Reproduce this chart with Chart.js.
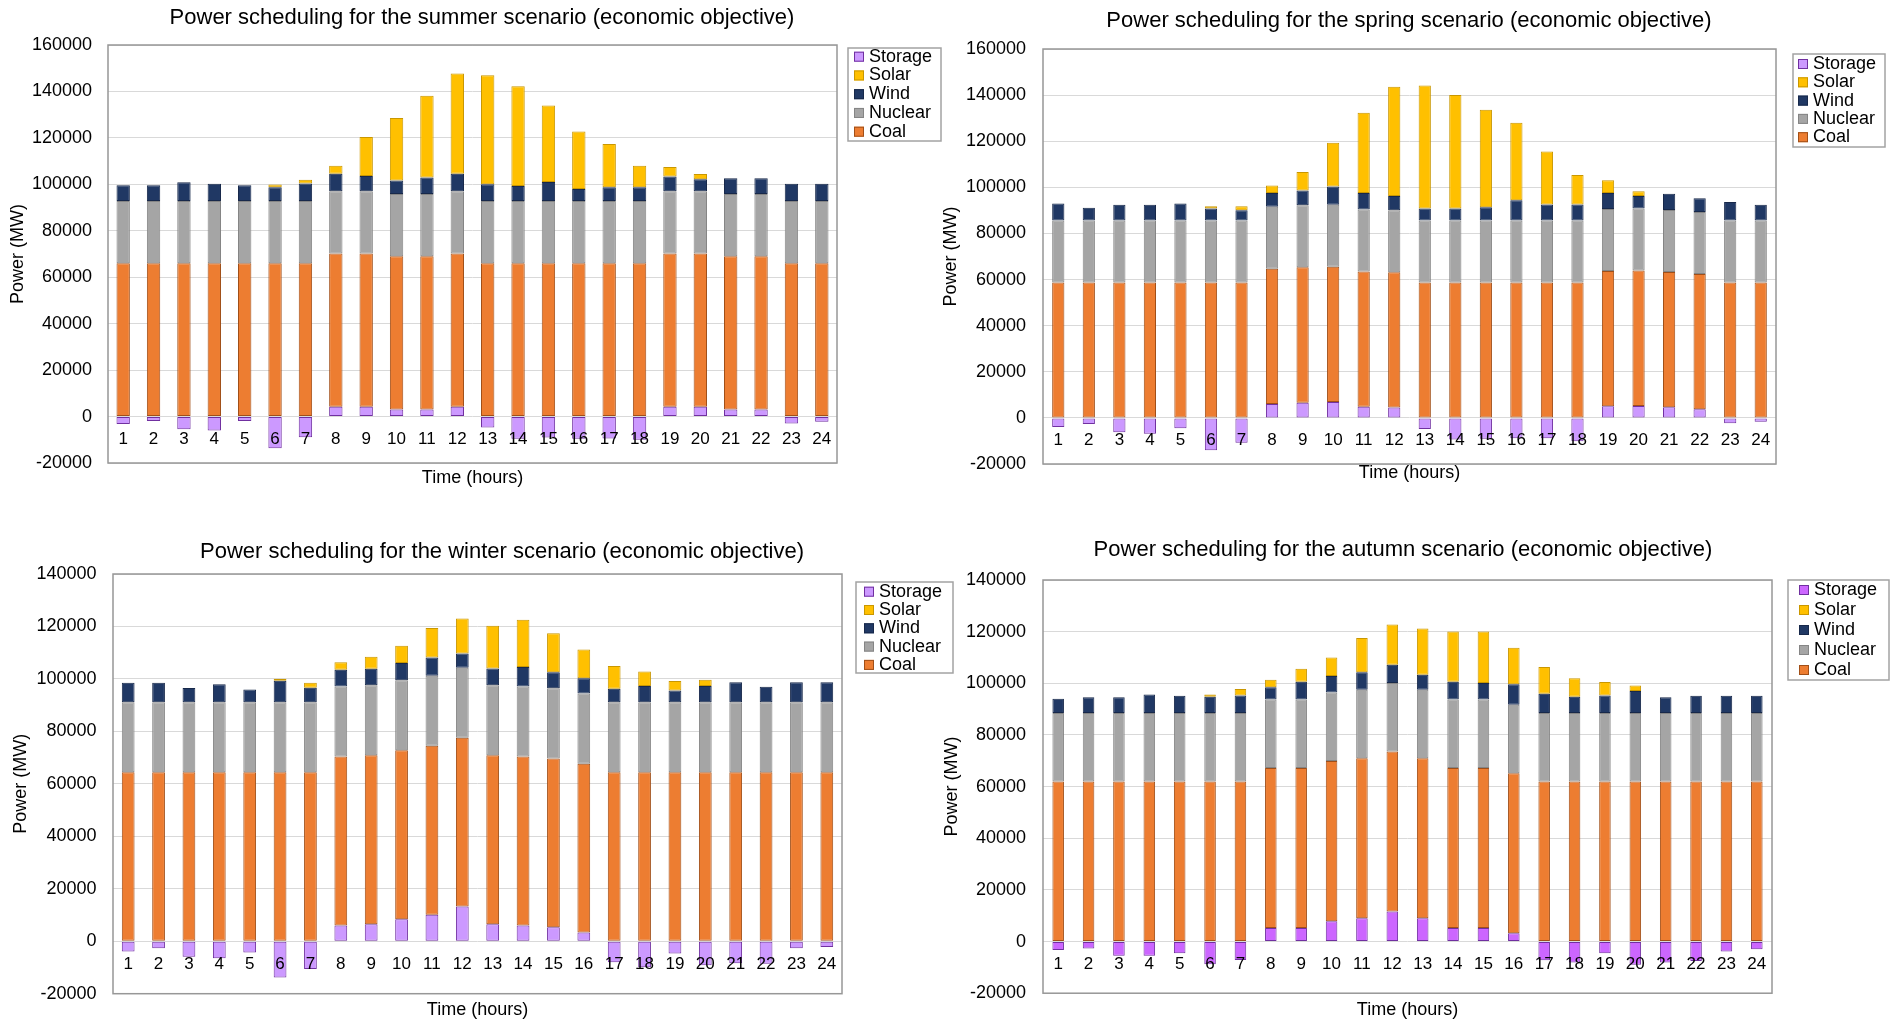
<!DOCTYPE html>
<html>
<head>
<meta charset="utf-8">
<title>Power scheduling (economic objective)</title>
<script src="https://cdn.jsdelivr.net/npm/chart.js@4.4.1/dist/chart.umd.min.js"></script>
<style>
  html, body { margin: 0; padding: 0; background: #fff; }
  body { position: relative; width: 1900px; height: 1021px; overflow: hidden; }
  canvas { position: absolute; }
</style>
</head>
<body>
<canvas id="summer" width="950" height="510" style="left:0;top:0"></canvas>
<canvas id="spring" width="970" height="510" style="left:930px;top:0"></canvas>
<canvas id="winter" width="960" height="511" style="left:0;top:510px"></canvas>
<canvas id="autumn" width="970" height="511" style="left:930px;top:510px"></canvas>
<script>
const hours = ['1', '2', '3', '4', '5', '6', '7', '8', '9', '10', '11', '12',
               '13', '14', '15', '16', '17', '18', '19', '20', '21', '22', '23', '24'];

// MW per hour, summer
const summerStorage = [-3200, -1900, -5500, -6000, -1900, -13600, -8900, 4200, 4200, 3000, 3000, 4200,
                       -4700, -9600, -9000, -9600, -9400, -10000, 4200, 4200, 3000, 3000, -3000, -2200];
const summerCoal = [66000, 66000, 66000, 66000, 66000, 66000, 66000, 66000, 66000, 66000, 66000, 66000,
                    66000, 66000, 66000, 66000, 66000, 66000, 66000, 66000, 66000, 66000, 66000, 66000];
const summerNuclear = [26800, 26800, 26800, 26800, 26800, 26800, 26800, 26800, 26800, 26800, 26800, 26800,
                       26800, 26800, 26800, 26800, 26800, 26800, 26800, 26800, 26800, 26800, 26800, 26800];
const summerWind = [6800, 6800, 8100, 7500, 6800, 5900, 7600, 7600, 6600, 5800, 7100, 7600,
                    7200, 6500, 8200, 5200, 5900, 5900, 6400, 5200, 6800, 6800, 7500, 7500];
const summerSolar = [0, 0, 0, 0, 0, 1200, 1600, 3400, 16800, 27000, 35200, 43100,
                     47000, 42900, 32900, 24700, 18700, 9300, 4100, 2300, 0, 0, 0, 0];

// spring
const springStorage = [-3900, -2600, -6200, -6900, -4500, -14000, -10800, 6000, 6600, 6900, 4800, 4500,
                       -4800, -9400, -9100, -8800, -8800, -10100, 5000, 5200, 4600, 3700, -2300, -1700];
const springCoal = [58700, 58700, 58700, 58700, 58700, 58700, 58700, 58700, 58700, 58700, 58700, 58700,
                    58700, 58700, 58700, 58700, 58700, 58700, 58700, 58700, 58700, 58700, 58700, 58700];
const springNuclear = [26900, 26900, 26900, 26900, 26900, 26900, 26900, 26900, 26900, 26900, 26900, 26900,
                       26900, 26900, 26900, 26900, 26900, 26900, 26900, 26900, 26900, 26900, 26900, 26900];
const springWind = [7400, 5500, 6800, 6800, 7400, 5200, 4500, 5900, 6400, 7900, 7100, 6100,
                    5200, 5200, 5800, 8800, 7000, 7000, 6900, 5400, 7000, 6000, 8000, 6800];
const springSolar = [0, 0, 0, 0, 0, 1000, 1700, 3300, 8000, 18900, 34800, 47400,
                     53400, 49200, 42200, 33600, 22900, 12800, 5600, 2100, 0, 0, 0, 0];

// winter
const winterStorage = [-3900, -2700, -5900, -6500, -4300, -13800, -10600, 6000, 6500, 8400, 10100, 13200,
                       6500, 6000, 5300, 3300, -8000, -9900, -4700, -9200, -8400, -8600, -2700, -2200];
const winterCoal = [64400, 64400, 64400, 64400, 64400, 64400, 64400, 64400, 64400, 64400, 64400, 64400,
                    64400, 64400, 64400, 64400, 64400, 64400, 64400, 64400, 64400, 64400, 64400, 64400];
const winterNuclear = [26700, 26700, 26700, 26700, 26700, 26700, 26700, 26700, 26700, 26700, 26700, 26700,
                       26700, 26700, 26700, 26700, 26700, 26700, 26700, 26700, 26700, 26700, 26700, 26700];
const winterWind = [7400, 7400, 5400, 6900, 4900, 8200, 5500, 6400, 6300, 6600, 7000, 5400,
                    6400, 7400, 6100, 5900, 5200, 6200, 4500, 6200, 7600, 5900, 7600, 7600];
const winterSolar = [0, 0, 0, 0, 0, 800, 1900, 2900, 4600, 6500, 11200, 13300,
                     16300, 18100, 14900, 10900, 8600, 5500, 3600, 2400, 0, 0, 0, 0];

// autumn
const autumnStorage = [-3300, -2700, -5500, -5500, -4500, -8800, -7100, 5200, 5200, 7900, 9000, 11600,
                       9000, 5200, 5200, 3200, -7200, -8100, -4500, -9000, -8100, -7500, -3900, -3000];
const autumnCoal = [62000, 62000, 62000, 62000, 62000, 62000, 62000, 62000, 62000, 62000, 62000, 62000,
                    62000, 62000, 62000, 62000, 62000, 62000, 62000, 62000, 62000, 62000, 62000, 62000];
const autumnNuclear = [26500, 26500, 26500, 26500, 26500, 26500, 26500, 26500, 26500, 26500, 26500, 26500,
                       26500, 26500, 26500, 26500, 26500, 26500, 26500, 26500, 26500, 26500, 26500, 26500];
const autumnWind = [5500, 6100, 6100, 7200, 6700, 6300, 6800, 4800, 6900, 6400, 6800, 7100,
                    5800, 6900, 6400, 7900, 7500, 6300, 6800, 8500, 6100, 6700, 6700, 6700];
const autumnSolar = [0, 0, 0, 0, 0, 900, 2500, 2900, 5000, 7200, 13200, 15600,
                     17900, 19500, 20000, 14200, 10300, 7200, 5200, 2100, 0, 0, 0, 0];

const legendOrder = ['Storage', 'Solar', 'Wind', 'Nuclear', 'Coal'];

const FONT = "'Liberation Sans', Arial, sans-serif";
Chart.defaults.font.family = FONT;
Chart.defaults.color = '#000';

// frame round the plot, the title, the x-axis title and the boxed legend
const sheetDecor = {
    id: 'sheetDecor',
    afterDraw(chart, args, opts) {
        const { ctx, chartArea: a } = chart;
        ctx.save();

        ctx.strokeStyle = '#979797';
        ctx.lineWidth = 1.5;
        ctx.strokeRect(a.left, a.top, a.right - a.left, a.bottom - a.top);

        ctx.fillStyle = '#000';
        ctx.textAlign = 'center';
        ctx.textBaseline = 'middle';
        ctx.font = `22px ${FONT}`;
        ctx.fillText(opts.text, opts.titleX, opts.titleY);
        ctx.font = `18px ${FONT}`;
        ctx.fillText('Time (hours)', (a.left + a.right) / 2, opts.xTitleY);

        const L = opts.box;
        ctx.strokeStyle = '#a3a3a3';
        ctx.lineWidth = 1.5;
        ctx.strokeRect(L.x, L.y, L.w, L.h);
        ctx.textAlign = 'left';
        legendOrder.forEach((name, i) => {
            const ds = chart.data.datasets.find(d => d.label === name);
            const cy = L.y + L.first + i * L.step;
            const sx = L.x + L.pad;
            ctx.fillStyle = ds.backgroundColor;
            ctx.fillRect(sx, cy - 5, 10, 10);
            ctx.strokeStyle = ds.borderColor;
            ctx.lineWidth = 1;
            ctx.strokeRect(sx + 0.5, cy - 4.5, 9, 9);
            ctx.fillStyle = '#000';
            ctx.fillText(name, sx + 15, cy);
        });
        ctx.restore();
    }
};

function series(label, data, fill, line, barPct) {
    return {
        label,
        data,
        backgroundColor: fill,
        borderColor: line,
        borderWidth: 1,
        borderSkipped: false,
        barPercentage: barPct,
        categoryPercentage: 1,
    };
}

function drawSeason(id, season, d, storageFill, yMax, lay) {
    return new Chart(document.getElementById(id), {
        type: 'bar',
        data: {
            labels: hours,
            datasets: [
                // storage first so that charging sits under the coal block
                series('Storage', d.storage, storageFill, '#7030A0', lay.bar),
                series('Coal', d.coal, '#ED7D31', '#A14F18', lay.bar),
                series('Nuclear', d.nuclear, '#A5A5A5', '#858585', lay.bar),
                series('Wind', d.wind, '#203864', '#17284A', lay.bar),
                series('Solar', d.solar, '#FFC000', '#C99700', lay.bar),
            ],
        },
        options: {
            responsive: false,
            animation: false,
            devicePixelRatio: 1,
            layout: { padding: lay.padding },
            plugins: {
                legend: { display: false },
                tooltip: { enabled: false },
                sheetDecor: {
                    text: `Power scheduling for the ${season} scenario (economic objective)`,
                    titleX: lay.titleX, titleY: lay.titleY,
                    xTitleY: lay.xTitleY,
                    box: lay.box,
                },
            },
            scales: {
                x: {
                    stacked: true,
                    position: { y: 0 },
                    grid: { display: false, drawTicks: false },
                    border: { display: false },
                    ticks: { z: 1, padding: lay.xPad, autoSkip: false, maxRotation: 0, font: { size: 17 } },
                },
                y: {
                    stacked: true,
                    min: -20000,
                    max: yMax,
                    grid: { color: '#d9d9d9', drawTicks: false },
                    border: { display: false },
                    ticks: { stepSize: 20000, padding: lay.yPad, font: { size: 18 }, callback: v => String(v) },
                    title: { display: true, text: 'Power (MW)', font: { size: 18 }, padding: { top: lay.yTitlePad, bottom: 0 } },
                    afterFit: s => { s.width = lay.yWidth; },
                },
            },
        },
        plugins: [sheetDecor],
    });
}

drawSeason('summer', 'summer',
    { storage: summerStorage, coal: summerCoal, nuclear: summerNuclear, wind: summerWind, solar: summerSolar },
    '#CC99FF', 160000, {
        padding: { left: 0, top: 45, right: 113, bottom: 47 },
        yWidth: 108, yPad: 16, yTitlePad: 7.1, xPad: 13, bar: 0.44,
        titleX: 482, titleY: 18, xTitleY: 478,
        box: { x: 848, y: 48, w: 93, h: 93, pad: 6, first: 8.7, step: 18.75 },
    });

drawSeason('spring', 'spring',
    { storage: springStorage, coal: springCoal, nuclear: springNuclear, wind: springWind, solar: springSolar },
    '#CC99FF', 160000, {
        padding: { left: 0, top: 49, right: 124, bottom: 46 },
        yWidth: 113, yPad: 17, yTitlePad: 10.7, xPad: 12, bar: 0.40,
        titleX: 479, titleY: 21.3, xTitleY: 472.7,
        box: { x: 863, y: 54, w: 92, h: 93, pad: 5, first: 10, step: 18.3 },
    });

drawSeason('winter', 'winter',
    { storage: winterStorage, coal: winterCoal, nuclear: winterNuclear, wind: winterWind, solar: winterSolar },
    '#CC99FF', 140000, {
        padding: { left: 0, top: 64, right: 118, bottom: 25 },
        yWidth: 113, yPad: 16.5, yTitlePad: 10.6, xPad: 13, bar: 0.42,
        titleX: 502, titleY: 41.7, xTitleY: 500,
        box: { x: 856, y: 72, w: 97, h: 91, pad: 8, first: 9.7, step: 18.3 },
    });

drawSeason('autumn', 'autumn',
    { storage: autumnStorage, coal: autumnCoal, nuclear: autumnNuclear, wind: autumnWind, solar: autumnSolar },
    '#CC66FF', 140000, {
        padding: { left: 0, top: 70, right: 128, bottom: 27 },
        yWidth: 113, yPad: 17, yTitlePad: 11.2, xPad: 13, bar: 0.38,
        titleX: 473, titleY: 39.5, xTitleY: 500,
        box: { x: 858, y: 70, w: 101, h: 100, pad: 11, first: 10, step: 20 },
    });
</script>
</body>
</html>
